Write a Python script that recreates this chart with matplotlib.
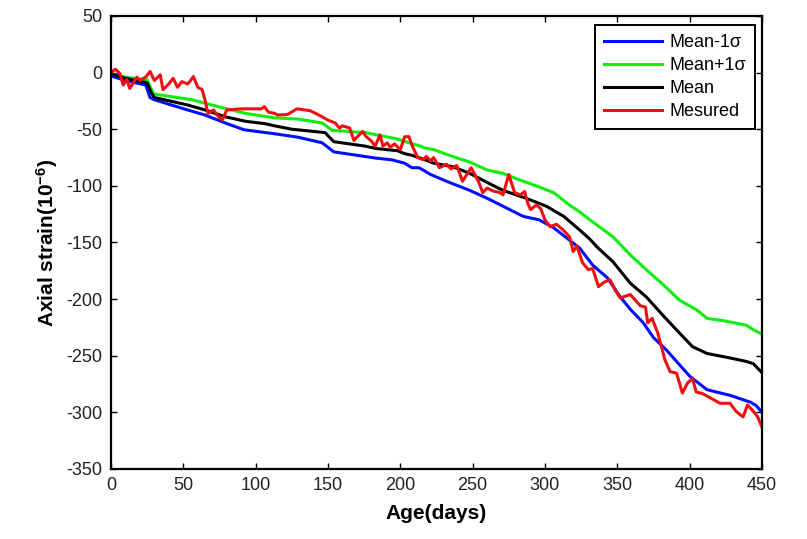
import matplotlib
matplotlib.use("Agg")
import matplotlib.pyplot as plt

plt.rcParams['font.family'] = ['Liberation Sans', 'DejaVu Sans']
plt.rcParams['mathtext.fontset'] = 'custom'
plt.rcParams['mathtext.rm'] = 'Liberation Sans'
plt.rcParams['mathtext.it'] = 'Liberation Sans:italic'
plt.rcParams['mathtext.bf'] = 'Liberation Sans:bold'
plt.rcParams['axes.unicode_minus'] = False

# Mean - 1 sigma
blue_x = [0, 10, 24, 27, 30, 53, 65, 79, 92, 113, 129, 146, 150, 154, 183, 194, 203, 208, 213, 221,
          232, 248, 260, 271, 285, 296, 306, 317, 324, 333, 343, 352, 359, 368, 375, 384, 393, 400,
          412, 428, 442, 446, 450]
blue_y = [-3, -7, -11, -22, -24, -33, -37.5, -44.5, -50.5, -54, -57, -62, -66, -70, -75.5, -77, -80, -84, -84, -90,
          -96, -104, -111, -118, -127, -130, -137, -148, -155, -170, -181, -198, -209, -221, -234, -245, -258, -268,
          -280, -285, -291, -294, -300]

# Mean + 1 sigma
green_x = [0, 10, 25, 28, 30, 56, 65, 77, 93, 113, 129, 146, 153, 176, 198, 206, 214, 217, 223, 236,
           248, 260, 271, 283, 294, 306, 317, 324, 331, 336, 347, 359, 370, 382, 393, 405, 412, 423,
           439, 444, 450]
green_y = [-1, -4, -6.5, -15, -19, -24, -27, -31, -36, -40, -41, -44.5, -51, -53, -58.6, -62, -65, -66.6, -68, -74,
           -79, -86, -89, -95, -100, -106, -117, -123, -130, -134.6, -145, -161, -174, -187.5, -201, -209.6, -217, -219,
           -223, -227, -231]

# Mean
black_x = [0, 10, 25, 28, 30, 53, 65, 79, 93, 106, 113, 125, 148, 154, 176, 183, 198, 203, 208, 215,
           223, 236, 248, 260, 271, 287, 301, 313, 324, 331, 336, 347, 359, 370, 382, 393, 402, 412,
           428, 439, 444, 450]
black_y = [-1, -5, -9, -18, -22, -28.6, -33, -39, -43, -45, -47, -50, -53, -61, -65, -67, -69, -71.6, -73, -76,
           -80, -83, -89, -97, -104, -111, -118, -127, -139, -147, -154, -167, -186, -198, -215, -230, -242, -248,
           -252, -255, -257, -265]

# Measured
red_x = [0, 3, 6, 8.5, 11, 13, 15, 18, 20, 24, 27, 30, 34, 36, 40, 43, 46, 49, 53, 55, 57, 60, 63, 65, 67,
         71, 73, 77, 80, 90, 104, 106, 109, 113, 115.5, 122, 128.6, 134, 137.6, 143, 150, 155, 158, 160, 165,
         168, 170, 174, 176, 180, 182.6, 186, 188, 191, 193, 196, 200, 203, 206, 208, 212, 216, 218, 221, 223,
         227, 232, 235, 239, 243, 249, 254, 257, 260, 264, 269, 271, 275, 279, 283, 286, 288, 290, 294, 297,
         300, 303.5, 308, 312.6, 317, 319.5, 322, 326, 330, 333, 337, 341, 345, 348.5, 352, 359, 366, 369.5,
         371, 374, 378, 383, 386.5, 391, 395, 398.6, 402, 404.5, 409, 414, 421, 428, 432, 437, 440, 444, 447, 450]
red_y = [0, 3, -0.5, -11, -6, -14, -10, -4, -7, -4, 1, -7, -2, -15, -10, -5, -13, -8, -10, -7, -3.5, -13, -15, -24, -36,
         -33, -37, -42, -33, -32, -32, -30, -35, -36, -37.5, -37, -32, -33, -33.6, -37, -42, -44.5, -49, -47, -49,
         -60, -57, -52, -56, -60.5, -65, -55, -65, -62, -66, -63, -68, -56.6, -56.6, -64, -75, -77, -74, -78, -75,
         -84, -81, -85, -82, -96, -84, -96, -106, -102, -104.5, -106, -108, -90, -106, -108, -105, -115, -121, -117, -120,
         -130, -136, -134, -139, -145, -158, -153, -168, -174, -173, -189, -185, -183, -192, -199, -196, -206, -207,
         -221, -217, -230, -254, -264, -265.5, -283, -274, -270, -282, -283.5, -287, -292, -292, -299, -304, -293.5, -299, -304, -313]

x_ticks = [0, 50, 100, 150, 200, 250, 300, 350, 400, 450]
y_ticks = [50, 0, -50, -100, -150, -200, -250, -300, -350]

fig = plt.figure(figsize=(8.07, 5.39), dpi=100)
ax = fig.add_axes([0.1375, 0.1299, 0.8067, 0.8405])

lw = 2.2
ax.plot(blue_x, blue_y, color='#0010ff', lw=lw, label='Mean-1σ')
ax.plot(green_x, green_y, color='#10ee10', lw=lw, label='Mean+1σ')
ax.plot(black_x, black_y, color='black', lw=lw, label='Mean')
ax.plot(red_x, red_y, color='#ee1010', lw=lw, label='Mesured')

ax.set_xlim(0, 450)
ax.set_ylim(-350, 50)
ax.set_xticks(x_ticks)
ax.set_yticks(y_ticks)
ax.tick_params(direction='in', length=4, width=1, labelsize=13, top=True, right=True, pad=6,
               labelcolor='#222222')
for s in ax.spines.values():
    s.set_linewidth(1.6)

ax.set_xlabel('Age(days)', fontsize=15, fontweight='bold', labelpad=7)
ax.set_ylabel(r'Axial strain(10$^{\mathbf{-6}}$)', fontsize=15, fontweight='bold', labelpad=5)

leg = ax.legend(loc='upper right', bbox_to_anchor=(0.989, 0.98), fontsize=13, frameon=True,
                fancybox=False, shadow=False, edgecolor='black', framealpha=1,
                handlelength=3.2, borderpad=0.5, labelspacing=0.33, handletextpad=0.4,
                borderaxespad=0.0)
leg.get_frame().set_linewidth(1.4)

fig.savefig('out.png', dpi=100)
